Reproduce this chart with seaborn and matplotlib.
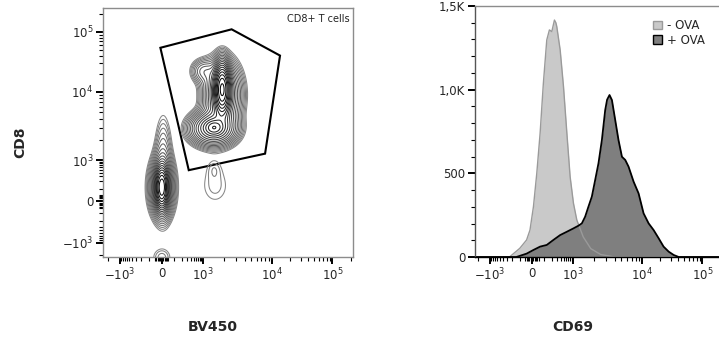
import numpy as np
import matplotlib
matplotlib.use("Agg")
import matplotlib.pyplot as plt
from matplotlib.patches import Polygon, Patch
from matplotlib.ticker import FixedLocator, FixedFormatter
import seaborn as sns

# ---------------- data ----------------
# biexponential display anchors (value -> display units)
axis_values = [-1e6, -1e4, -1e3, 0, 1e3, 1e4, 1e5, 1e7]
axis_units = [-162, -82, -42, 0, 41, 110, 170, 290]

major_ticks = [-1e3, 0, 1e3, 1e4, 1e5]
major_labels = [r"$-10^{3}$", "0", r"$10^{3}$", r"$10^{4}$", r"$10^{5}$"]

# left panel: populations (BV450 centre, CD8 centre, sd x, sd y (display units), weight)
pop_bv450 = [1900, 1900, 1400, 1450, 1000, 0, 0, 10, 1500, 1450, 0]
pop_cd8 = [11000, 9000, 2900, 3000, 22000, 120, 120, 600, 140, 560, -2300]
pop_sdx = [4, 10, 12, 5, 7, 3.5, 7, 5, 12, 5, 7]
pop_sdy = [13, 18, 9, 4, 7, 11, 17, 28, 16, 7, 7]
pop_weight = [1.0, 0.22, 0.3, 0.2, 0.05, 0.9, 0.15, 0.05, 0.013, 0.008, 0.017]

gate_bv450 = [-10, 2600, 13500, 7900, 350]
gate_cd8 = [54000, 110000, 40000, 1250, 480]

# right panel: CD69 histograms
neg_cd69 = [-2400, -400, -240, -99, -40, -15, 10, 35, 62, 92, 129, 163, 199, 246, 275, 295,
            382, 490, 630, 800, 1010, 1130, 1400, 1800, 2500, 4000, 220000]
neg_count = [0, 0, 0, 52, 102, 161, 301, 500, 739, 1038, 1297, 1357, 1347, 1416, 1400, 1377,
             1237, 1018, 739, 480, 321, 221, 120, 50, 15, 0, 0]
pos_cd69 = [-2400, -137, -40, 10, 62, 129, 227, 382, 630, 1010, 1193, 1337, 1493, 1666, 1866,
            2084, 2327, 2606, 2910, 3100, 3360, 3640, 4060, 4530, 5080, 5670, 6330, 7490, 8840,
            10500, 12740, 15430, 18700, 22600, 27450, 33300, 40300, 220000]
pos_count = [0, 0, 20, 42, 62, 72, 102, 131, 151, 171, 187, 201, 241, 301, 361,
             460, 560, 699, 878, 940, 968, 938, 819, 699, 599, 580, 540, 450, 380,
             261, 201, 161, 112, 62, 32, 12, 0, 0]
hist_labels = ["- OVA", "+ OVA"]

# ---------------- scale ----------------
g_anchor = np.arcsinh(np.array(axis_values) / 100.0)
u_anchor = np.array(axis_units, dtype=float)


def fwd(v):
    v = np.asarray(v, dtype=float)
    return np.interp(np.arcsinh(v / 100.0), g_anchor, u_anchor)


def inv(u):
    u = np.asarray(u, dtype=float)
    return 100.0 * np.sinh(np.interp(u, u_anchor, g_anchor))


minor = []
for sgn in (-1, 1):
    for k in range(1, 6):
        minor.append(sgn * 10 * k)
    for k in range(1, 10):
        minor.append(sgn * 100 * k)
for dec in (1e3, 1e4):
    for k in range(2, 10):
        minor.append(k * dec)
for k in range(2, 10):
    minor.append(-k * 1e3)
minor.append(2e5)

sns.set_style("white")
plt.rcParams["font.family"] = ["DejaVu Sans"]
plt.rcParams["mathtext.fontset"] = "dejavusans"

fig = plt.figure(figsize=(7.19, 3.43), dpi=100)
W, H = 719, 343


def axes_px(x0, y0, x1, y1):
    return fig.add_axes([x0 / W, 1 - y1 / H, (x1 - x0) / W, (y1 - y0) / H])


# ---------------- left panel ----------------
ax1 = axes_px(103, 8, 353, 257)
ax1.set_xscale("function", functions=(fwd, inv))
ax1.set_yscale("function", functions=(fwd, inv))

ux = np.linspace(-60, 195, 500)
uy = np.linspace(-58, 200, 500)
UX, UY = np.meshgrid(ux, uy)
Z = np.zeros_like(UX)
for bx, cy, sx, sy, w in zip(pop_bv450, pop_cd8, pop_sdx, pop_sdy, pop_weight):
    cx_u = fwd(bx)
    cy_u = fwd(cy)
    Z += w * np.exp(-0.5 * ((UX - cx_u) / sx) ** 2 - 0.5 * ((UY - cy_u) / sy) ** 2)
n_lev = 20
levels = np.geomspace(0.009, 1.1, n_lev)
line_cols = plt.cm.Greys(np.linspace(0.55, 0.98, n_lev))
ax1.contour(inv(UX), inv(UY), Z, levels=levels, colors=line_cols, linewidths=0.75)

gate = Polygon(np.column_stack([gate_bv450, gate_cd8]), closed=True, fill=False,
               edgecolor="black", linewidth=1.5)
ax1.add_patch(gate)
ax1.set_xlim(-2600, 2.2e5)
ax1.set_ylim(-2250, 2.5e5)
ax1.text(0.985, 0.955, "CD8+ T cells", transform=ax1.transAxes, ha="right", va="center",
         fontsize=7, color="#222222")

# ---------------- right panel ----------------
ax2 = axes_px(475, 6, 723, 257)
ax2.set_xscale("function", functions=(fwd, inv))
ax2.fill_between(neg_cd69, neg_count, color="#c9c9c9", linewidth=0)
sns.lineplot(x=neg_cd69, y=neg_count, ax=ax2, color="#9a9a9a", linewidth=1.0, sort=False)
ax2.fill_between(pos_cd69, pos_count, color="#7f7f7f", linewidth=0)
sns.lineplot(x=pos_cd69, y=pos_count, ax=ax2, color="black", linewidth=1.3, sort=False)
ax2.set_xlim(-2370, 2.2e5)
ax2.set_ylim(0, 1500)
ax2.yaxis.set_major_locator(FixedLocator([0, 500, 1000, 1500]))
ax2.yaxis.set_major_formatter(FixedFormatter(["0", "500", "1,0K", "1,5K"]))
ax2.yaxis.set_minor_locator(FixedLocator(list(range(100, 1500, 100))))

handles = [Patch(facecolor="#c9c9c9", edgecolor="#9a9a9a"),
           Patch(facecolor="#7f7f7f", edgecolor="black")]
fig.legend(handles, hist_labels, loc="upper left", bbox_to_anchor=(653 / W, 1 - 19 / H),
           frameon=False, fontsize=8.5, handlelength=0.75, handleheight=0.75,
           handletextpad=0.4, labelspacing=0.15, borderpad=0, borderaxespad=0)

# ---------------- axes styling ----------------
for ax in (ax1, ax2):
    ax.xaxis.set_major_locator(FixedLocator(major_ticks))
    ax.xaxis.set_major_formatter(FixedFormatter(major_labels))
    ax.xaxis.set_minor_locator(FixedLocator(minor))
    ax.tick_params(axis="both", which="major", length=5, width=1.4, color="black",
                   labelsize=8.5, pad=2, direction="out", bottom=True, left=True)
    ax.tick_params(axis="both", which="minor", length=3, width=0.8, color="black",
                   direction="out", bottom=True, left=True)
    ax.set_xlabel("")
    ax.set_ylabel("")
    for s in ax.spines.values():
        s.set_color("#8c8c8c")
        s.set_linewidth(1.0)

ax1.yaxis.set_major_locator(FixedLocator(major_ticks))
ax1.yaxis.set_major_formatter(FixedFormatter(major_labels))
ax1.yaxis.set_minor_locator(FixedLocator(minor))
ax2.spines["bottom"].set_color("black")
ax2.spines["left"].set_color("#555555")

fig.text(20 / W, 1 - 142 / H, "CD8", rotation=90, ha="center", va="center",
         fontsize=10, fontweight="bold")
fig.text(213 / W, 1 - 327 / H, "BV450", ha="center", va="center", fontsize=10,
         fontweight="bold")
fig.text(573 / W, 1 - 327 / H, "CD69", ha="center", va="center", fontsize=10,
         fontweight="bold")

fig.savefig("out.png", dpi=100)
